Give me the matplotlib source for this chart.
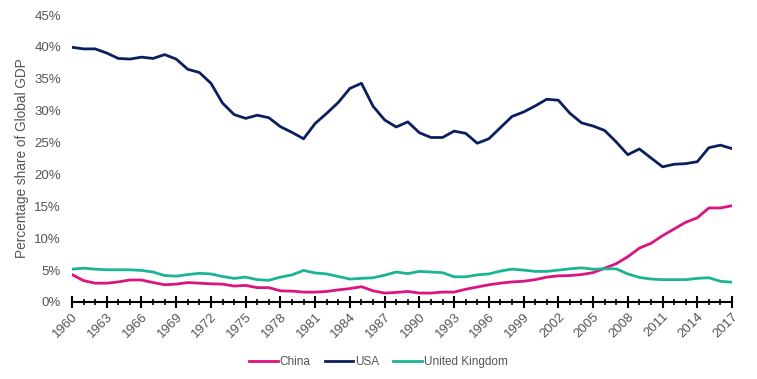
import matplotlib
matplotlib.use("Agg")
import matplotlib.pyplot as plt
from matplotlib.ticker import MultipleLocator, FuncFormatter

years = list(range(1960, 2018))

china = [4.3, 3.35, 2.95, 2.95, 3.15, 3.45, 3.45, 3.05, 2.7, 2.8,
         3.05, 2.95, 2.85, 2.8, 2.5, 2.6, 2.25, 2.25, 1.75, 1.7,
         1.55, 1.55, 1.65, 1.9, 2.1, 2.4, 1.75, 1.4, 1.5, 1.65,
         1.4, 1.4, 1.55, 1.55, 2.0, 2.35, 2.7, 2.95, 3.15, 3.25,
         3.5, 3.9, 4.1, 4.15, 4.3, 4.6, 5.3, 6.0, 7.1, 8.45,
         9.2, 10.4, 11.45, 12.5, 13.2, 14.75, 14.75, 15.1]

usa = [39.95, 39.7, 39.7, 39.05, 38.2, 38.1, 38.4, 38.2, 38.8, 38.1,
       36.5, 36.0, 34.3, 31.2, 29.4, 28.8, 29.3, 28.9, 27.5, 26.6,
       25.6, 28.0, 29.6, 31.3, 33.5, 34.3, 30.7, 28.55, 27.45, 28.25,
       26.55, 25.8, 25.8, 26.8, 26.45, 24.9, 25.6, 27.35, 29.1, 29.8,
       30.75, 31.8, 31.65, 29.6, 28.1, 27.6, 26.9, 25.1, 23.1, 24.0,
       22.6, 21.2, 21.6, 21.7, 22.0, 24.2, 24.6, 24.05]

uk = [5.15, 5.3, 5.15, 5.05, 5.05, 5.05, 4.95, 4.7, 4.15, 4.05,
      4.3, 4.5, 4.4, 4.0, 3.7, 3.9, 3.5, 3.4, 3.9, 4.25,
      4.95, 4.55, 4.4, 4.0, 3.6, 3.7, 3.8, 4.2, 4.7, 4.45,
      4.8, 4.7, 4.6, 3.95, 3.95, 4.25, 4.4, 4.85, 5.15, 5.0,
      4.8, 4.8, 5.0, 5.2, 5.35, 5.15, 5.2, 5.2, 4.4, 3.85,
      3.6, 3.5, 3.5, 3.5, 3.7, 3.8, 3.25, 3.1]

series_names = ["China", "USA", "United Kingdom"]
colors = ["#DC1480", "#0B1F5E", "#1BB495"]

plt.rcParams['font.family'] = ['Liberation Sans', 'DejaVu Sans']
text_color = "#555555"

fig = plt.figure(figsize=(7.57, 3.79), dpi=100)
ax = fig.add_axes([0.0951, 0.2032, 0.8719, 0.757])

for vals, name, c in zip([china, usa, uk], series_names, colors):
    ax.plot(years, vals, color=c, lw=2.0, label=name, solid_joinstyle='round')

ax.set_xlim(1960, 2017)
ax.set_ylim(0, 45)
ax.yaxis.set_major_locator(MultipleLocator(5))
ax.yaxis.set_major_formatter(FuncFormatter(lambda v, p: f"{int(round(v))}%"))
ax.set_xticks(list(range(1960, 2016, 3)) + [2017])
ax.xaxis.set_minor_locator(MultipleLocator(1))

for s in ["top", "right", "left"]:
    ax.spines[s].set_visible(False)
ax.spines["bottom"].set_linewidth(1.5)
ax.spines["bottom"].set_color("black")

ax.tick_params(axis='y', length=0, pad=8, labelsize=9.5, labelcolor=text_color)
ax.tick_params(axis='x', which='major', direction='inout', length=8, width=1.5,
               pad=2, labelsize=9.5, labelcolor=text_color)
ax.tick_params(axis='x', which='minor', direction='inout', length=4, width=1.2)
for lbl in ax.get_xticklabels():
    lbl.set_rotation(45)
    lbl.set_ha('right')
    lbl.set_rotation_mode('anchor')

ax.set_ylabel("Percentage share of Global GDP", fontsize=9.8, color=text_color, labelpad=4)

fig.legend(loc='center', bbox_to_anchor=(0.5, 0.045), ncol=3, frameon=False,
           fontsize=8.5, handlelength=2.4, handletextpad=0.17, columnspacing=1.2,
           labelcolor=text_color)

fig.savefig("out.png", dpi=100)
